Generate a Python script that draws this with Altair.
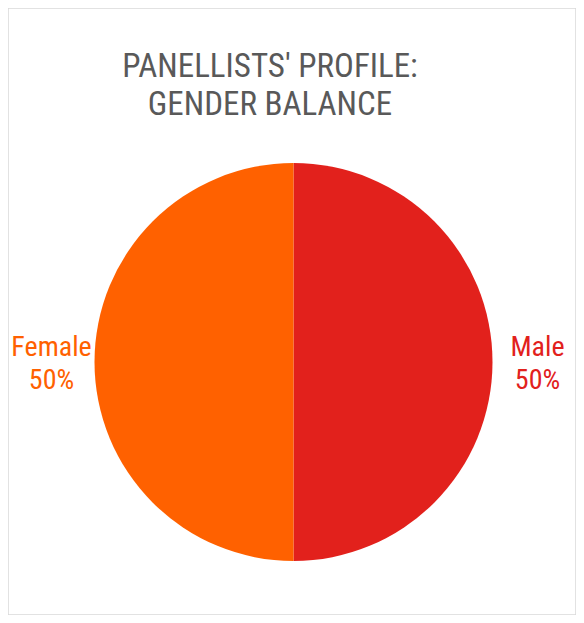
import altair as alt
import pandas as pd

genders = ["Male", "Female"]
shares = [50, 50]
order = [1, 2]
colors = ["#E2211C", "#FF6100"]
title_lines = ["PANELLISTS' PROFILE:", "GENDER BALANCE"]

df = pd.DataFrame({"gender": genders, "share": shares, "order": order})
df["label"] = df["gender"] + "\n" + df["share"].astype(str) + "%"

FONT = "Roboto Condensed, Liberation Sans Narrow, Arial Narrow, Roboto, sans-serif"

color_scale = alt.Scale(domain=genders, range=colors)

base = alt.Chart(df).encode(
    theta=alt.Theta("share:Q", stack=True),
    order=alt.Order("order:Q"),
    color=alt.Color("gender:N", scale=color_scale, legend=None),
)

pie = base.mark_arc(outerRadius=199).encode(
    x=alt.value(285.5), y=alt.value(354)
)

labels = base.mark_text(
    radius=243, font=FONT, fontSize=28, lineHeight=33, lineBreak="\n",
    align="center", baseline="middle", dy=-14
).encode(text="label:N", x=alt.value(286.5), y=alt.value(354))

chart = (pie + labels).properties(
    width=568, height=607,
    padding=0,
    autosize=alt.AutoSizeParams(type="none"),
    title=alt.TitleParams(
        text=title_lines, font=FONT, fontSize=33, fontWeight="normal",
        color="#595959", lineHeight=38, anchor="middle", baseline="top",
        offset=-114, dx=-22,
    ),
).configure_view(stroke="#D9D9D9", strokeWidth=1.5)

chart.save("out.html", embed_options={"renderer": "svg", "actions": False})
